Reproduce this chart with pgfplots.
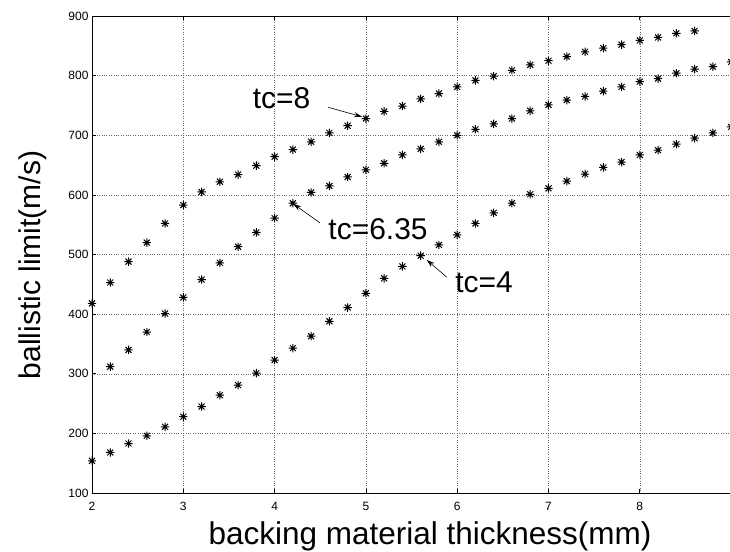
\documentclass[border=0pt]{standalone}
\usepackage{fontspec}
\setmainfont{Liberation Sans}
\usepackage{pgfplots}
\pgfplotsset{compat=1.18}
\usetikzlibrary{arrows.meta}
\pgfdeclareplotmark{mstar}{%
  \pgfpathmoveto{\pgfpoint{-\pgfplotmarksize}{0pt}}%
  \pgfpathlineto{\pgfpoint{\pgfplotmarksize}{0pt}}%
  \pgfpathmoveto{\pgfpoint{0pt}{-\pgfplotmarksize}}%
  \pgfpathlineto{\pgfpoint{0pt}{\pgfplotmarksize}}%
  \pgfpathmoveto{\pgfpoint{-0.707\pgfplotmarksize}{-0.707\pgfplotmarksize}}%
  \pgfpathlineto{\pgfpoint{0.707\pgfplotmarksize}{0.707\pgfplotmarksize}}%
  \pgfpathmoveto{\pgfpoint{-0.707\pgfplotmarksize}{0.707\pgfplotmarksize}}%
  \pgfpathlineto{\pgfpoint{0.707\pgfplotmarksize}{-0.707\pgfplotmarksize}}%
  \pgfusepathqstroke}
\pgfplotsset{starpts/.style={only marks, mark=mstar, mark size=4.2pt, black, line width=1pt}}
\begin{document}
\begin{tikzpicture}[x=1pt,y=1pt]
\clip (0,0) rectangle (730,551);
\path[use as bounding box] (0,0) rectangle (730,551);
\begin{axis}[
  at={(92pt,58pt)}, anchor=south west,
  scale only axis, width=675.6pt, height=477pt,
  xmin=2, xmax=9.4, ymin=100, ymax=900,
  xtick={2,3,...,8}, ytick={100,200,...,900},
  grid=major,
  major grid style={dotted, black!60, line width=0.5pt},
  tick align=inside, major tick length=4pt,
  axis line style={black, line width=0.8pt},
  tick style={black, line width=0.6pt},
  ticklabel style={font=\fontsize{12}{12}\selectfont},
  xticklabel style={yshift=-6pt},
  /pgf/number format/assume math mode=true,
]
% tc=4
\addplot[starpts] coordinates {(2.0,154)(2.2,168)(2.4,183)(2.6,196)(2.8,211)(3.0,228)(3.2,245)(3.4,264)(3.6,281)(3.8,301)(4.0,323)(4.2,343)(4.4,363)(4.6,388)(4.8,411)(5.0,435)(5.2,460)(5.4,480)(5.6,498)(5.8,516)(6.0,533)(6.2,552)(6.4,570)(6.6,586)(6.8,601)(7.0,611)(7.2,623)(7.4,635)(7.6,646)(7.8,655)(8.0,667)(8.2,675)(8.4,685)(8.6,695)(8.8,704)(9.0,714)};
% tc=6.35
\addplot[starpts] coordinates {(2.2,312)(2.4,340)(2.6,370)(2.8,401)(3.0,428)(3.2,458)(3.4,486)(3.6,513)(3.8,537)(4.0,561)(4.2,586)(4.4,604)(4.6,615)(4.8,630)(5.0,642)(5.2,653)(5.4,667)(5.6,677)(5.8,689)(6.0,700)(6.2,710)(6.4,719)(6.6,728)(6.8,741)(7.0,751)(7.2,759)(7.4,765)(7.6,774)(7.8,781)(8.0,790)(8.2,795)(8.4,804)(8.6,811)(8.8,815)(9.0,823)};
% tc=8
\addplot[starpts] coordinates {(2.0,418)(2.2,453)(2.4,488)(2.6,520)(2.8,552)(3.0,583)(3.2,605)(3.4,622)(3.6,634)(3.8,649)(4.0,664)(4.2,676)(4.4,689)(4.6,704)(4.8,716)(5.0,728)(5.2,740)(5.4,749)(5.6,761)(5.8,770)(6.0,781)(6.2,792)(6.4,799)(6.6,809)(6.8,818)(7.0,825)(7.2,832)(7.4,840)(7.6,846)(7.8,852)(8.0,859)(8.2,864)(8.4,871)(8.6,875)};
% annotations
\node[font=\fontsize{30}{30}\selectfont, inner sep=0pt] at (axis cs:4.076,762) {tc=8};
\draw[line width=0.6pt, -{Stealth[length=8pt,width=5pt]}] (axis cs:4.585,747) -- (axis cs:4.957,731);
\node[font=\fontsize{30}{30}\selectfont, inner sep=0pt] at (axis cs:5.133,543) {tc=6.35};
\draw[line width=0.6pt, -{Stealth[length=8pt,width=5pt]}] (axis cs:4.497,553) -- (axis cs:4.205,585);
\node[font=\fontsize{30}{30}\selectfont, inner sep=0pt] at (axis cs:6.294,454) {tc=4};
\draw[line width=0.6pt, -{Stealth[length=8pt,width=5pt]}] (axis cs:5.885,462) -- (axis cs:5.666,491);
\end{axis}
\node[anchor=base, font=\fontsize{31.5}{32}\selectfont, inner sep=0pt] at (430,6.7) {backing material thickness(mm)};
\node[anchor=base, rotate=90, font=\fontsize{30}{30}\selectfont, inner sep=0pt] at (40.5,286) {ballistic limit(m/s)};
\end{tikzpicture}
\end{document}
